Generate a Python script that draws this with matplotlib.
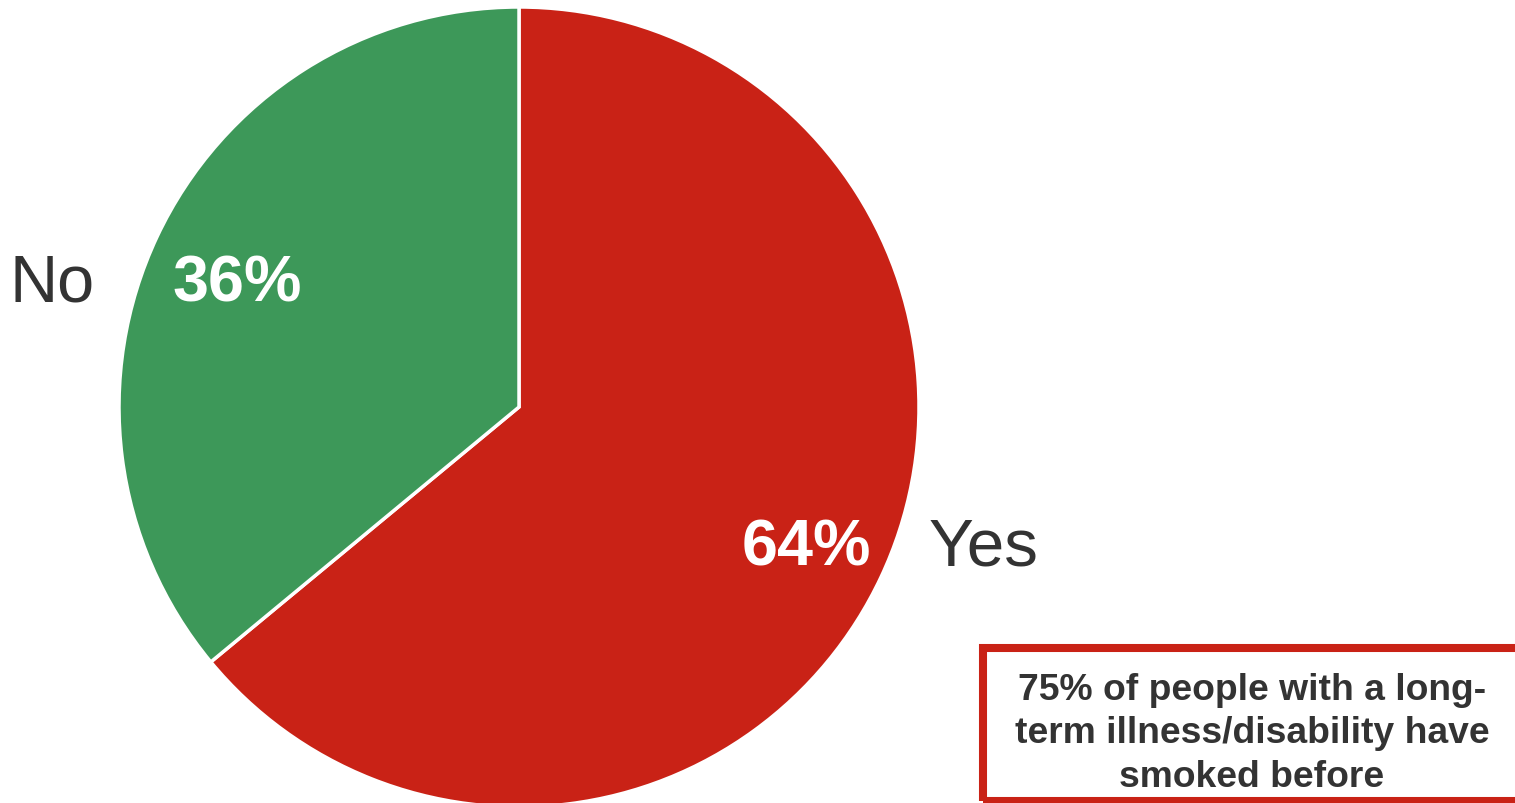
import numpy as np
import matplotlib.pyplot as plt
from matplotlib.patches import Rectangle

plt.rcParams['font.family'] = ['Liberation Sans', 'DejaVu Sans']

labels = ['Yes', 'No']
shares = [64, 36]
colors = ['#C92216', '#3D9859']
note = '75% of people with a long-\nterm illness/disability have\nsmoked before'

W, H = 1515, 804
cx, cy, r = 519, H - 408, 400

fig = plt.figure(figsize=(W / 100, H / 100), dpi=100)
ax = fig.add_axes([0, 0, 1, 1])

wedges, texts, pcts = ax.pie(
    shares, colors=colors, startangle=90, counterclock=False,
    center=(cx, cy), radius=r,
    autopct=lambda p: f'{p:.0f}%', pctdistance=0.785,
    wedgeprops=dict(edgecolor='white', linewidth=2.5),
    textprops=dict(color='white', fontsize=46.5, fontweight='bold'))

# category names sit level with the percentages, just outside the rim
for w, t, name in zip(wedges, pcts, labels):
    x, y = t.get_position()
    if x >= cx:
        x, y = x + 3, y - 7
    else:
        x, y = x + 2, y - 10
    t.set_position((x, y))
    dy = y - cy
    dx = np.sqrt(max(r ** 2 - dy ** 2, 0))
    if x >= cx:
        ax.text(cx + dx + 35, y, name, ha='left', va='center',
                fontsize=48.5, color='#333333')
    else:
        ax.text(cx - dx - 44, y, name, ha='right', va='center',
                fontsize=48, color='#333333')

ax.add_patch(Rectangle((983, H - 802), 620, 153, fill=False,
                       edgecolor='#C92216', linewidth=5.8, clip_on=True))
ax.text(1252, H - 734, note, ha='center', va='center', fontsize=26.8,
        fontweight='bold', color='#333333', linespacing=1.3)

ax.set_xlim(0, W)
ax.set_ylim(0, H)
ax.set_aspect('equal')
ax.axis('off')

fig.savefig('out.png', dpi=100)
